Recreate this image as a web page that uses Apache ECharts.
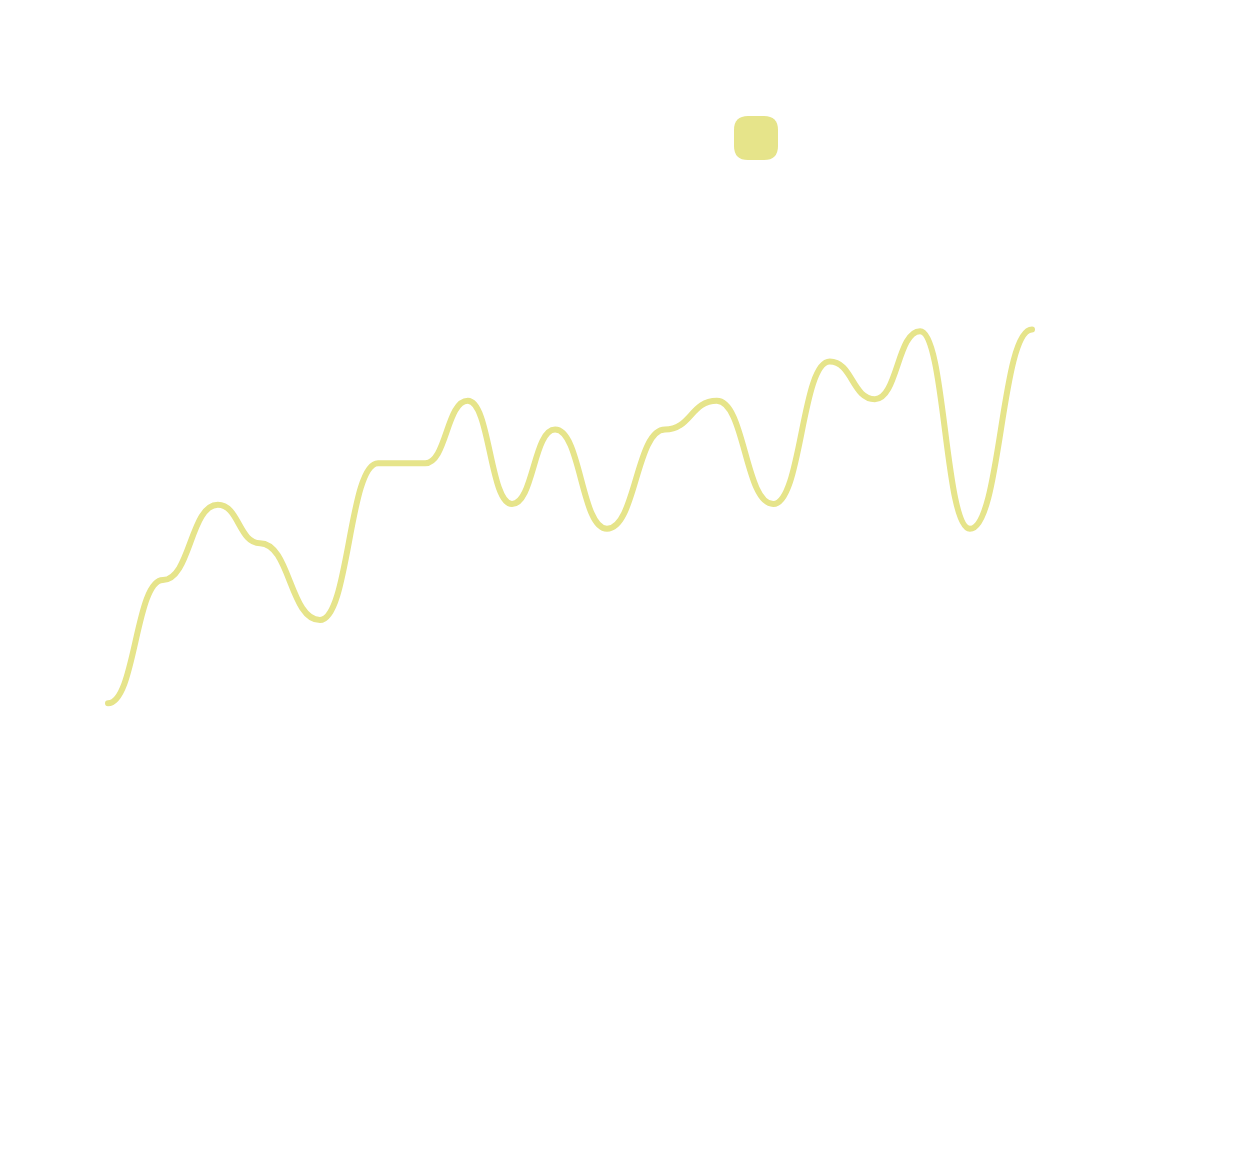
<!DOCTYPE html>
<html>
<head>
<meta charset="utf-8">
<script src="https://cdn.jsdelivr.net/npm/echarts@6/dist/echarts.min.js"></script>
<style>html,body{margin:0;padding:0;background:#fff;}#c{width:1260px;height:1170px;}</style>
</head>
<body>
<div id="c"></div>
<script>
const seriesName = 'Series';
const xValues = [0, 10.7, 21.4, 29.6, 41.3, 52.6, 61.8, 70.1, 78.7, 87.1, 97.2, 108.5, 118.6, 129.6, 140.6, 149.4, 158.2, 167.9, 180];
const yValues = [24.6, 40.0, 49.4, 44.6, 35.0, 54.6, 54.6, 62.4, 49.5, 58.8, 46.4, 58.8, 62.4, 49.5, 67.3, 62.6, 71.1, 46.4, 71.3];

const lineColor = '#e6e48a';
const points = xValues.map((x, i) => [x, yValues[i]]);
const chart = echarts.init(document.getElementById('c'), null, {renderer: 'canvas'});

function renderBump(params, api) {
  if (params.dataIndex !== 0) return null;
  const pts = points.map(p => api.coord(p));
  let d = 'M' + pts[0][0] + ' ' + pts[0][1];
  for (let i = 1; i < pts.length; i++) {
    const p0 = pts[i - 1], p1 = pts[i];
    const mx = (p0[0] + p1[0]) / 2;
    d += ' C' + mx + ' ' + p0[1] + ' ' + mx + ' ' + p1[1] + ' ' + p1[0] + ' ' + p1[1];
  }
  return {
    type: 'path',
    shape: {pathData: d},
    style: {fill: 'none', stroke: lineColor, lineWidth: 6, lineCap: 'round', lineJoin: 'round'}
  };
}

chart.setOption({
  animation: false,
  backgroundColor: '#ffffff',
  legend: {
    left: 729, top: 111,
    itemWidth: 44, itemHeight: 44,
    icon: 'path://M14,0 L30,0 Q44,0 44,14 L44,30 Q44,44 30,44 L14,44 Q0,44 0,30 L0,14 Q0,0 14,0 Z',
    formatter: function () { return ''; },
    data: [seriesName]
  },
  grid: {left: 108, right: 228, top: 100, bottom: 270},
  xAxis: {type: 'value', min: 0, max: 180, show: false},
  yAxis: {type: 'value', min: 0, max: 100, show: false},
  series: [{
    name: seriesName,
    type: 'custom',
    data: points,
    encode: {x: 0, y: 1},
    renderItem: renderBump,
    itemStyle: {color: lineColor}
  }]
});
</script>
</body>
</html>
